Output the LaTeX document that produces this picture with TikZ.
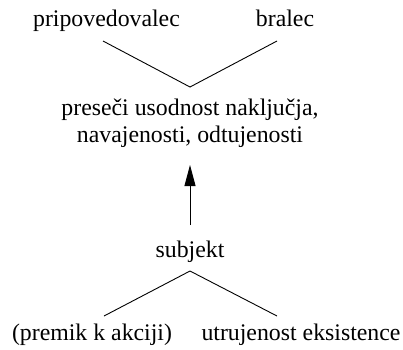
\documentclass[tikz,border=0pt]{standalone}
\usepackage{fontspec}
\setmainfont{Liberation Serif}
\newfontfamily\timesfont{Liberation Serif}
\usetikzlibrary{arrows.meta}
\begin{document}
\begin{tikzpicture}[x=1pt,y=-1pt,
  lbl/.style={inner sep=0pt, anchor=base, font=\timesfont\fontsize{23.8}{27}\selectfont},
  conn/.style={line width=0.9pt, line join=miter},
  arr/.style={line width=0.9pt, -{Triangle[length=21pt,width=11pt]}}]
\useasboundingbox (0,0) rectangle (403,349);
\node[lbl] (nar) at (106.5,26.5) {pripovedovalec};
\node[lbl] (bra) at (285,26.5) {bralec};
\node[lbl, align=center] (mid) at (190,142) {preseči usodnost naključja,\\navajenosti, odtujenosti};
\node[lbl] (sub) at (190,257) {subjekt};
\node[lbl] (pre) at (92,340) {(premik k akciji)};
\node[lbl] (utr) at (301,340) {utrujenost eksistence};
\coordinate (t1) at (103,41);
\coordinate (t2) at (277,41);
\coordinate (tv) at (190,87);
\coordinate (bv) at (190,271);
\coordinate (b1) at (104,316);
\coordinate (b2) at (277,316);
\coordinate (as) at (190,225);
\coordinate (ae) at (190,165);
\draw[conn] (t1) -- (tv) -- (t2);
\draw[conn] (b1) -- (bv) -- (b2);
\draw[arr] (as) -- (ae);
\end{tikzpicture}
\end{document}
